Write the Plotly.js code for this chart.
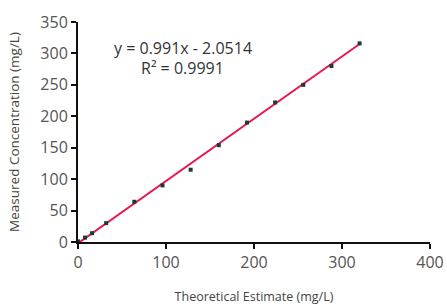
<!DOCTYPE html>
<html>
<head>
<meta charset="utf-8">
<script src="https://cdn.plot.ly/plotly-3.0.1.min.js"></script>
<style>html,body{margin:0;padding:0;background:#fff;}#chart{width:447px;height:307px;}</style>
</head>
<body>
<div id="chart"></div>
<script>
// Data
const theoretical = [0, 8, 16, 32, 64, 96, 128, 160, 192, 224, 256, 288, 320];
const measured    = [1, 7, 14, 30, 64, 90, 115, 154, 190, 222, 250, 280, 316];
const fitSlope = 0.991;
const fitIntercept = -2.0514;
const fitR2 = 0.9991;
const trendX = [0, 320];
const trendY = trendX.map(x => fitSlope * x + fitIntercept);
const xTicks = [0, 100, 200, 300, 400];
const yTicks = [0, 50, 100, 150, 200, 250, 300, 350];

const font = "'Open Sans', 'Noto Sans', sans-serif";

const traces = [
  {
    x: trendX, y: trendY, mode: 'lines', type: 'scatter',
    line: {color: '#e8174f', width: 2}, hoverinfo: 'skip', cliponaxis: false
  },
  {
    x: theoretical, y: measured, mode: 'markers', type: 'scatter',
    marker: {symbol: 'square', size: 4, color: '#1f3b2f'}, cliponaxis: false
  }
];

const axisCommon = {
  showgrid: false, zeroline: false, showline: true, linecolor: '#111', linewidth: 2,
  ticks: 'outside', ticklen: 5, tickwidth: 2, tickcolor: '#111',
  tickfont: {family: font, size: 16, color: '#555'}
};

const layout = {
  width: 447, height: 307,
  margin: {l: 78, r: 17, t: 22, b: 65},
  paper_bgcolor: '#fff', plot_bgcolor: '#fff',
  showlegend: false,
  xaxis: Object.assign({}, axisCommon, {
    range: [0, 400], tickvals: xTicks, ticktext: xTicks.map(String),
    title: {text: 'Theoretical Estimate (mg/L)', font: {family: font, size: 12.5, color: '#444'}, standoff: 20}
  }),
  yaxis: Object.assign({}, axisCommon, {
    range: [0, 350], tickvals: yTicks, ticktext: yTicks.map(String),
    title: {text: 'Measured Concentration (mg/L)', font: {family: font, size: 13.5, color: '#444'}, standoff: 18}
  }),
  annotations: [
    {
      xref: 'paper', yref: 'paper', x: 0.297, y: 0.882, xanchor: 'center', yanchor: 'middle',
      text: 'y = ' + fitSlope + 'x - ' + Math.abs(fitIntercept),
      showarrow: false, font: {family: font, size: 16, color: '#333'}
    },
    {
      xref: 'paper', yref: 'paper', x: 0.297, y: 0.791, xanchor: 'center', yanchor: 'middle',
      text: 'R\u00B2 = ' + fitR2,
      showarrow: false, font: {family: font, size: 16, color: '#333'}
    }
  ]
};

Plotly.newPlot('chart', traces, layout, {displayModeBar: false, staticPlot: true});
</script>
</body>
</html>
